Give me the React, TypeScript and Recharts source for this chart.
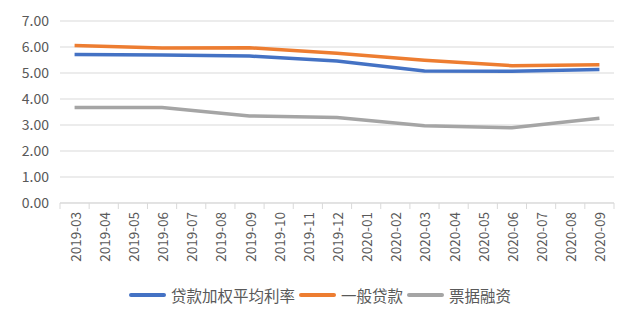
import React from 'react';
import { LineChart, Line, XAxis, YAxis, CartesianGrid, Legend } from 'recharts';

const months = [
    '2019-03', '2019-04', '2019-05', '2019-06', '2019-07', '2019-08', '2019-09',
    '2019-10', '2019-11', '2019-12', '2020-01', '2020-02', '2020-03', '2020-04',
    '2020-05', '2020-06', '2020-07', '2020-08', '2020-09',
];
// quarterly values only, gaps are bridged
const weightedAvg = [5.71, null, null, 5.69, null, null, 5.65, null, null, 5.46, null, null, 5.08, null, null, 5.07, null, null, 5.13];
const generalLoan = [6.06, null, null, 5.96, null, null, 5.97, null, null, 5.76, null, null, 5.49, null, null, 5.28, null, null, 5.32];
const billFinance = [3.67, null, null, 3.67, null, null, 3.35, null, null, 3.29, null, null, 2.97, null, null, 2.89, null, null, 3.26];
const yTicks = [0, 1, 2, 3, 4, 5, 6, 7];

const seriesNames = ['贷款加权平均利率', '一般贷款', '票据融资'];
const colors = ['#4472C4', '#ED7D31', '#A5A5A5'];

const FONT = '"Noto Sans CJK SC", "Liberation Sans", sans-serif';
const TEXT = '#595959';
const GRID = '#D9D9D9';

const W = 635;
const H = 323;
const PLOT_LEFT = 60;
const PLOT_RIGHT = 614;
const BAND = (PLOT_RIGHT - PLOT_LEFT) / months.length;

const data = months.map((m, i) => ({
    month: m,
    a: weightedAvg[i],
    b: generalLoan[i],
    c: billFinance[i],
}));

const MonthTick = (props: any) => {
    const { x, y, payload, index } = props;
    const left = x - BAND / 2;
    return (
        <g>
            <line x1={left} y1={y} x2={left} y2={y + 6} stroke={GRID} />
            {index === months.length - 1 && (
                <line x1={x + BAND / 2} y1={y} x2={x + BAND / 2} y2={y + 6} stroke={GRID} />
            )}
            <text
                transform={`translate(${x},${y + 9}) rotate(-90)`}
                textAnchor="end"
                dominantBaseline="central"
                fill={TEXT}
                fontSize={13.5}
                fontFamily={FONT}
            >
                {payload.value}
            </text>
        </g>
    );
};

const LegendContent = () => (
    <div style={{ display: 'flex', justifyContent: 'center', alignItems: 'center', paddingLeft: 26, fontFamily: FONT, fontSize: 15.5, color: TEXT, lineHeight: '20px' }}>
        {seriesNames.map((n, i) => (
            <div key={n} style={{ display: 'flex', alignItems: 'center', marginRight: i < 2 ? 4 : 0 }}>
                <div style={{ width: 37, height: 4, background: colors[i], borderRadius: 2, marginRight: 5 }} />
                <span>{n}</span>
            </div>
        ))}
    </div>
);

export default function App() {
    return (
        <div style={{ position: 'absolute', left: 0, top: 0, width: W, height: H, background: '#fff' }}>
            <LineChart
                width={W}
                height={H}
                data={data}
                margin={{ top: 21, right: W - PLOT_RIGHT, left: 0, bottom: 8 }}
            >
                <CartesianGrid vertical={false} stroke={GRID} />
                <XAxis
                    dataKey="month"
                    interval={0}
                    padding={{ left: BAND / 2, right: BAND / 2 }}
                    height={82}
                    tickSize={0}
                    tickMargin={0}
                    tickLine={false}
                    axisLine={{ stroke: GRID }}
                    tick={<MonthTick />}
                />
                <YAxis
                    width={PLOT_LEFT}
                    domain={[0, 7]}
                    ticks={yTicks}
                    tickFormatter={(v: number) => v.toFixed(2)}
                    axisLine={false}
                    tickLine={false}
                    tickSize={0}
                    tickMargin={11}
                    tick={{ fill: TEXT, fontSize: 14, fontFamily: FONT }}
                />
                <Legend verticalAlign="bottom" height={30} content={<LegendContent />} />
                <Line dataKey="a" name={seriesNames[0]} stroke={colors[0]} strokeWidth={3.5} dot={false} connectNulls isAnimationActive={false} />
                <Line dataKey="b" name={seriesNames[1]} stroke={colors[1]} strokeWidth={3.5} dot={false} connectNulls isAnimationActive={false} />
                <Line dataKey="c" name={seriesNames[2]} stroke={colors[2]} strokeWidth={3.5} dot={false} connectNulls isAnimationActive={false} />
            </LineChart>
        </div>
    );
}
